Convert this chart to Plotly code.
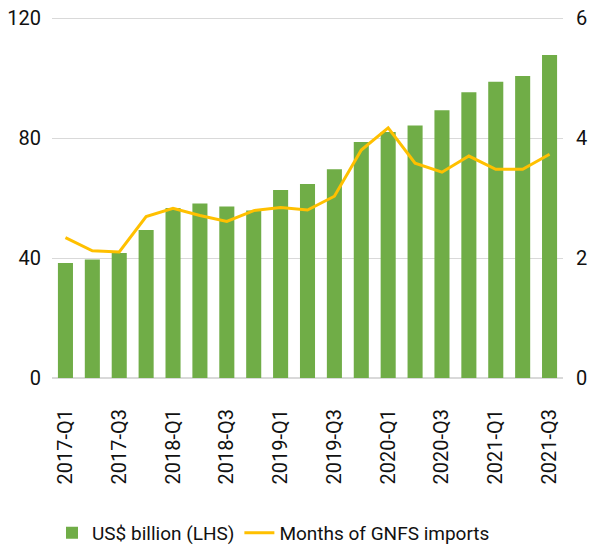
import plotly.graph_objects as go

quarters = ["2017-Q1", "2017-Q2", "2017-Q3", "2017-Q4",
            "2018-Q1", "2018-Q2", "2018-Q3", "2018-Q4",
            "2019-Q1", "2019-Q2", "2019-Q3", "2019-Q4",
            "2020-Q1", "2020-Q2", "2020-Q3", "2020-Q4",
            "2021-Q1", "2021-Q2", "2021-Q3"]
reserves_usd_bn = [38.3, 39.5, 41.7, 49.3, 56.7, 58.2, 57.2, 55.8, 62.7, 64.7,
                   69.6, 78.7, 82.0, 84.2, 89.3, 95.3, 98.8, 100.7, 107.7]
months_imports = [2.34, 2.12, 2.10, 2.69, 2.83, 2.71, 2.61, 2.79, 2.84, 2.80,
                  3.03, 3.80, 4.17, 3.58, 3.43, 3.70, 3.48, 3.48, 3.73]
left_ticks = [0, 40, 80, 120]
right_ticks = [0, 2, 4, 6]
shown_quarters = quarters[::2]

FONT = "Roboto, Arial, sans-serif"

fig = go.Figure()
fig.add_trace(go.Bar(
    x=quarters, y=reserves_usd_bn, name="US$ billion (LHS)",
    marker=dict(color="#70AD47", line=dict(width=0)),
))
fig.add_trace(go.Scatter(
    x=quarters, y=months_imports, name="Months of GNFS imports",
    mode="lines", line=dict(color="#FFC000", width=3), yaxis="y2",
))

fig.update_layout(
    width=592, height=546,
    margin=dict(l=52, r=29, t=17, b=168, autoexpand=False),
    paper_bgcolor="white", plot_bgcolor="white",
    font=dict(family=FONT, size=20, color="#111111"),
    bargap=0.44,
    showlegend=True,
    legend=dict(orientation="h", x=0.462, xanchor="center", y=0.024, yanchor="middle",
                yref="container", xref="container",
                font=dict(size=19), itemwidth=30, tracegroupgap=0),
    xaxis=dict(type="category", tickmode="array", tickvals=shown_quarters,
               ticktext=shown_quarters, tickangle=-90, showgrid=False,
               showline=False, ticks="", ticklabelstandoff=26, automargin=False),
    yaxis=dict(range=[0, 120.35], tickvals=left_ticks, showgrid=True,
               gridcolor="#d9d9d9", gridwidth=1, zeroline=True,
               zerolinecolor="#d9d9d9", ticks="", ticklabelstandoff=10,
               automargin=False, ticklabeloverflow="allow"),
    yaxis2=dict(range=[0, 6.0175], tickvals=right_ticks, overlaying="y", side="right",
                showgrid=False, zeroline=False, ticks="", ticklabelstandoff=12,
                automargin=False, ticklabeloverflow="allow"),
)

fig.write_html(
    "out.html",
    config={"displayModeBar": False},
    post_script="document.body.style.margin='0';document.body.style.overflow='hidden';",
)
